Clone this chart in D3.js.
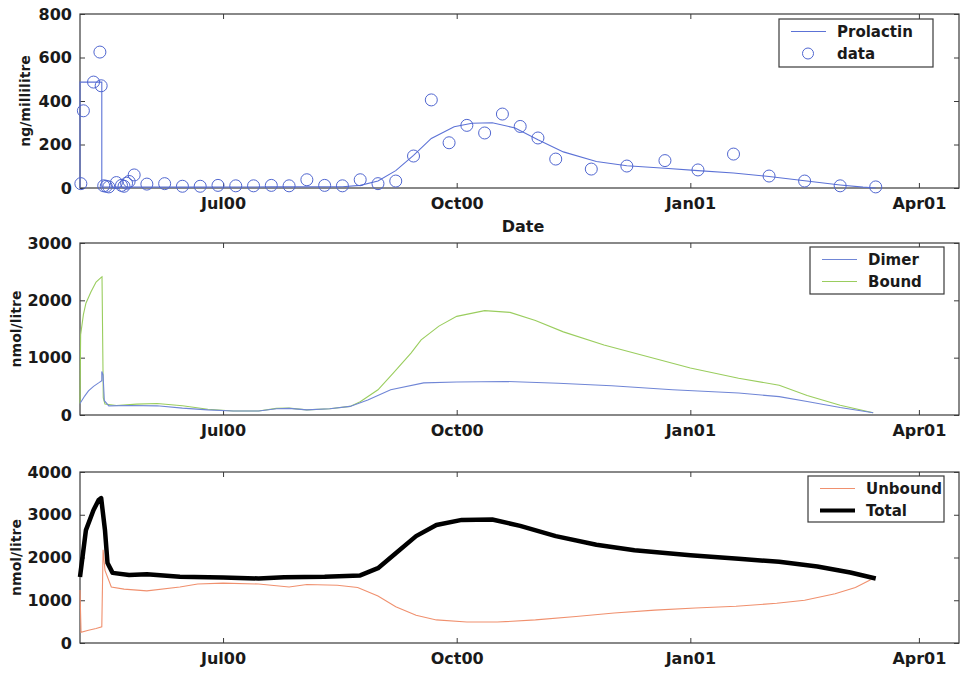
<!DOCTYPE html>
<html><head><meta charset="utf-8">
<script src="https://cdn.jsdelivr.net/npm/d3@7"></script>
<style>body{margin:0;background:#fff} svg{display:block} text{font-family:"DejaVu Sans",sans-serif;font-weight:bold;fill:#1a1a1a}</style>
</head><body><svg id="c" width="961" height="674"></svg>
<script>
// ---------- data ----------
const xDomain = ["2000-05-05T16:00", "2001-04-16T19:00"];
const xTickDates = ["2000-07-01", "2000-10-01", "2001-01-01", "2001-04-01"];
const xTickLabels = ["Jul00", "Oct00", "Jan01", "Apr01"];
const yTicksTop = [0, 200, 400, 600, 800];
const yTicksMid = [0, 1000, 2000, 3000];
const yTicksBot = [0, 1000, 2000, 3000, 4000];

// Prolactin measurements (ng/millilitre)
const dataDates = ["2000-05-06","2000-05-07","2000-05-11","2000-05-13T12:00","2000-05-14","2000-05-15","2000-05-16","2000-05-17","2000-05-20","2000-05-22","2000-05-23","2000-05-24","2000-05-25","2000-05-27","2000-06-01","2000-06-08","2000-06-15","2000-06-22","2000-06-29","2000-07-06","2000-07-13","2000-07-20","2000-07-27","2000-08-03","2000-08-10","2000-08-17","2000-08-24","2000-08-31","2000-09-07","2000-09-14","2000-09-21","2000-09-28","2000-10-05","2000-10-12","2000-10-19","2000-10-26","2000-11-02","2000-11-09","2000-11-23","2000-12-07","2000-12-22","2001-01-04","2001-01-18","2001-02-01","2001-02-15","2001-03-01","2001-03-15"];
const dataValues = [20,355,487,625,470,10,8,5,25,12,8,22,30,60,18,20,8,8,12,10,10,12,10,38,12,10,38,20,32,147,405,208,288,253,340,283,230,133,87,101,126,83,156,55,32,10,5];

// Prolactin model curve
const fitDates = ["2000-05-05T16:00","2000-05-05T16:00","2000-05-14T06:00","2000-05-14T06:00","2000-06-15","2000-07-20","2000-08-17","2000-08-24","2000-08-31","2000-09-07","2000-09-14","2000-09-21","2000-09-30","2000-10-07","2000-10-15","2000-10-24","2000-11-02","2000-11-12","2000-11-25","2000-12-07","2000-12-22","2001-01-04","2001-01-18","2001-02-01","2001-02-15","2001-03-01","2001-03-10","2001-03-15"];
const fitValues = [0,487,487,5,4,5,6,12,32,80,150,228,282,298,300,276,222,166,122,102,91,80,69,53,33,14,4,0];

// Dimer (nmol/litre)
const dimerDates = ["2000-05-05T16:00","2000-05-07T12:00","2000-05-09","2000-05-11","2000-05-13","2000-05-14T06:00","2000-05-14T06:00","2000-05-14T18:00","2000-05-15T06:00","2000-05-17","2000-05-25","2000-06-05","2000-06-15","2000-06-25","2000-07-05","2000-07-15","2000-07-22","2000-07-27","2000-08-03","2000-08-12","2000-08-20","2000-08-27","2000-09-05","2000-09-18","2000-10-01","2000-10-20","2000-11-10","2000-12-01","2000-12-25","2001-01-20","2001-02-05","2001-02-16","2001-03-01","2001-03-14"];
const dimerValues = [200,330,420,500,560,600,760,700,250,160,165,160,120,90,70,70,110,115,90,110,150,260,440,560,575,585,555,510,440,385,320,235,130,40];

// Bound (nmol/litre)
const boundDates = ["2000-05-05T16:00","2000-05-05T22:00","2000-05-07","2000-05-08","2000-05-10","2000-05-12","2000-05-14","2000-05-14T08:00","2000-05-14T20:00","2000-05-15T12:00","2000-05-20","2000-05-28","2000-06-05","2000-06-15","2000-06-25","2000-07-05","2000-07-15","2000-07-22","2000-07-27","2000-08-03","2000-08-12","2000-08-20","2000-08-24","2000-08-31","2000-09-06","2000-09-13","2000-09-17","2000-09-24","2000-10-01","2000-10-12","2000-10-22","2000-11-01","2000-11-12","2000-11-28","2000-12-15","2001-01-01","2001-01-20","2001-02-05","2001-02-16","2001-03-01","2001-03-14"];
const boundValues = [200,1400,1750,1950,2150,2320,2400,2410,300,190,165,190,200,160,100,70,70,115,120,90,110,150,230,440,730,1080,1310,1550,1720,1820,1790,1650,1450,1220,1020,820,640,520,340,170,40];

// Unbound (nmol/litre)
const unboundDates = ["2000-05-05T16:00","2000-05-06T02:00","2000-05-09","2000-05-12","2000-05-14T06:00","2000-05-14T18:00","2000-05-15T12:00","2000-05-18","2000-05-23","2000-06-01","2000-06-14","2000-06-21","2000-07-01","2000-07-15","2000-07-27","2000-08-03","2000-08-15","2000-08-23","2000-08-31","2000-09-07","2000-09-15","2000-09-23","2000-10-05","2000-10-17","2000-11-01","2000-11-17","2000-12-02","2000-12-18","2001-01-03","2001-01-19","2001-02-04","2001-02-15","2001-02-27","2001-03-07","2001-03-13"];
const unboundValues = [1240,250,300,340,380,2180,1700,1310,1260,1220,1310,1380,1400,1380,1310,1370,1350,1300,1100,850,650,540,490,490,540,620,700,770,820,860,930,1000,1150,1300,1480];

// Total (nmol/litre)
const totalDates = ["2000-05-05T16:00","2000-05-08","2000-05-11","2000-05-13","2000-05-14","2000-05-15T12:00","2000-05-16T12:00","2000-05-18T12:00","2000-05-25","2000-06-01","2000-06-14","2000-07-01","2000-07-15","2000-07-25","2000-08-10","2000-08-24","2000-08-31","2000-09-07","2000-09-15","2000-09-23","2000-10-03","2000-10-15","2000-10-26","2000-11-09","2000-11-25","2000-12-10","2001-01-01","2001-01-20","2001-02-05","2001-02-20","2001-03-05","2001-03-15"];
const totalValues = [1545,2640,3110,3345,3390,2640,1870,1640,1590,1610,1550,1530,1510,1540,1550,1580,1750,2100,2500,2760,2880,2890,2740,2500,2300,2170,2050,1970,1900,1790,1650,1510];

// ---------- drawing ----------
const parse = s => new Date(s.length === 10 ? s + "T00:00" : s);
const zip = (ds, vs) => ds.map((d, i) => [parse(d), vs[i]]);
const svg = d3.select("#c");
const X0 = 80, X1 = 959;
const x = d3.scaleTime().domain(xDomain.map(parse)).range([X0, X1]);
const FS = 16;

function panel(top, bottom, ymax, yticks, ylabel) {
  const y = d3.scaleLinear().domain([0, ymax]).range([bottom, top]);
  const g = svg.append("g");
  g.append("rect").attr("x", X0).attr("y", top).attr("width", X1 - X0).attr("height", bottom - top)
    .attr("fill", "none").attr("stroke", "#3a3a3a").attr("stroke-width", 1.2);
  const tickDates = xTickDates.map(parse);
  const fmt = d => xTickLabels[tickDates.findIndex(t => +t === +d)];
  g.append("g").attr("transform", `translate(0,${bottom})`)
    .call(d3.axisBottom(x).tickValues(tickDates).tickFormat(fmt).tickSize(-5).tickPadding(10));
  g.append("g").attr("transform", `translate(0,${top})`)
    .call(d3.axisTop(x).tickValues(tickDates).tickFormat("").tickSize(-5));
  g.append("g").attr("transform", `translate(${X0},0)`)
    .call(d3.axisLeft(y).tickValues(yticks).tickFormat(d3.format("d")).tickSize(-5).tickPadding(8));
  g.append("g").attr("transform", `translate(${X1},0)`)
    .call(d3.axisRight(y).tickValues(yticks).tickFormat("").tickSize(-5));
  g.selectAll(".domain").remove();
  g.selectAll(".tick line").attr("stroke", "#3a3a3a");
  g.selectAll(".tick text").attr("font-size", FS).attr("font-family", "DejaVu Sans")
    .attr("font-weight", "bold").attr("fill", "#1a1a1a");
  svg.append("text").attr("transform", `translate(${ylabel.x},${(top + bottom) / 2}) rotate(-90)`)
    .attr("text-anchor", "middle").attr("font-size", 14).text(ylabel.text);
  return y;
}

const line = (y) => d3.line().x(d => x(d[0])).y(d => y(d[1]));

// Top panel
const yT = panel(14, 188, 800, yTicksTop, {x: 30, text: "ng/millilitre"});
svg.append("path").datum(zip(fitDates, fitValues)).attr("d", line(yT))
  .attr("fill", "none").attr("stroke", "#5c72d6").attr("stroke-width", 1.1);
svg.append("g").selectAll("circle").data(zip(dataDates, dataValues)).join("circle")
  .attr("cx", d => x(d[0])).attr("cy", d => yT(d[1])).attr("r", 6)
  .attr("fill", "none").attr("stroke", "#5066d0").attr("stroke-width", 1);
svg.append("text").attr("x", 523).attr("y", 232).attr("text-anchor", "middle").attr("font-size", FS).text("Date");

// Middle panel
const yM = panel(243, 415, 3000, yTicksMid, {x: 21, text: "nmol/litre"});
svg.append("path").datum(zip(boundDates, boundValues)).attr("d", line(yM))
  .attr("fill", "none").attr("stroke", "#9acd5e").attr("stroke-width", 1.1);
svg.append("path").datum(zip(dimerDates, dimerValues)).attr("d", line(yM))
  .attr("fill", "none").attr("stroke", "#7086d6").attr("stroke-width", 1.1);

// Bottom panel
const yB = panel(472, 643, 4000, yTicksBot, {x: 21, text: "nmol/litre"});
svg.append("path").datum(zip(unboundDates, unboundValues)).attr("d", line(yB))
  .attr("fill", "none").attr("stroke", "#f0906e").attr("stroke-width", 1.1);
svg.append("path").datum(zip(totalDates, totalValues)).attr("d", line(yB))
  .attr("fill", "none").attr("stroke", "#000").attr("stroke-width", 4.5).attr("stroke-linejoin", "round");

// Legends
function legend(bx, by, bw, bh, items) {
  const g = svg.append("g");
  g.append("rect").attr("x", bx).attr("y", by).attr("width", bw).attr("height", bh)
    .attr("fill", "#fff").attr("stroke", "#3a3a3a").attr("stroke-width", 1.2);
  items.forEach((it, i) => {
    const cy = by + 12.5 + i * 22;
    if (it.type === "line") {
      g.append("line").attr("x1", bx + 12).attr("x2", bx + 47).attr("y1", cy).attr("y2", cy)
        .attr("stroke", it.color).attr("stroke-width", it.width);
    } else {
      g.append("circle").attr("cx", bx + 29).attr("cy", cy).attr("r", 5.5)
        .attr("fill", "none").attr("stroke", it.color).attr("stroke-width", 1);
    }
    g.append("text").attr("x", bx + 58).attr("y", cy + 5.5).attr("font-size", 15).text(it.label);
  });
}
legend(779, 19, 154, 48, [
  {type: "line", color: "#5c72d6", width: 1.1, label: "Prolactin"},
  {type: "circle", color: "#5066d0", label: "data"}]);
legend(810, 247, 134, 47, [
  {type: "line", color: "#7086d6", width: 1.1, label: "Dimer"},
  {type: "line", color: "#9acd5e", width: 1.1, label: "Bound"}]);
legend(808, 476, 136, 46, [
  {type: "line", color: "#f0906e", width: 1.1, label: "Unbound"},
  {type: "line", color: "#000", width: 4, label: "Total"}]);
</script></body></html>
